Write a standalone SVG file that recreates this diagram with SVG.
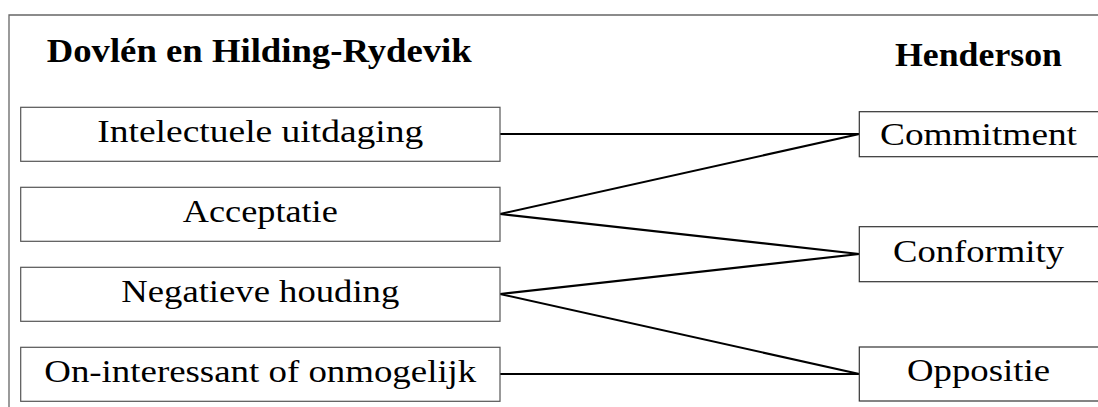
<svg xmlns="http://www.w3.org/2000/svg" width="1098" height="407" viewBox="0 0 1098 407">
  <style>
    .frame { fill: none; stroke: #666; stroke-width: 1.3; }
    .box { fill: #fff; stroke: #555; stroke-width: 1.2; }
    .rbox { fill: #fff; stroke: #333; stroke-width: 1.2; }
    .edge { fill: none; stroke: #000; stroke-width: 2.1; }
    .head { font-family: "Liberation Serif", "DejaVu Serif", serif; font-weight: bold; font-size: 33px; fill: #000; }
    .lbl { font-family: "Liberation Serif", "DejaVu Serif", serif; font-size: 31px; fill: #000; text-anchor: middle; }
  </style>
  <rect width="1098" height="407" fill="#fff"/>

  <!-- outer frame, open to the right and bottom -->
  <polyline class="frame" points="9,407 9,15 1098,15"/>

  <!-- column headings -->
  <text id="head-left" class="head" x="46.7" y="61.7" textLength="425" lengthAdjust="spacingAndGlyphs">Dovlén en Hilding-Rydevik</text>
  <text id="head-right" class="head" x="895" y="65.7" textLength="167" lengthAdjust="spacingAndGlyphs">Henderson</text>

  <!-- connectors -->
  <g id="connectors">
    <line class="edge" x1="500" y1="134" x2="859.3" y2="134"/>
    <line class="edge" x1="500" y1="214" x2="859.3" y2="134"/>
    <line class="edge" x1="500" y1="214" x2="859.3" y2="254"/>
    <line class="edge" x1="500" y1="294" x2="859.3" y2="254"/>
    <line class="edge" x1="500" y1="294" x2="859.3" y2="374"/>
    <line class="edge" x1="500" y1="374" x2="859.3" y2="374"/>
  </g>

  <!-- left column -->
  <g id="n-intelectuele">
    <rect class="box" x="20.7" y="107.3" width="479.3" height="54"/>
    <text class="lbl" x="260.3" y="142.3" textLength="326" lengthAdjust="spacingAndGlyphs">Intelectuele uitdaging</text>
  </g>
  <g id="n-acceptatie">
    <rect class="box" x="20.7" y="187.3" width="479.3" height="54"/>
    <text class="lbl" x="260.3" y="222.3" textLength="155" lengthAdjust="spacingAndGlyphs">Acceptatie</text>
  </g>
  <g id="n-negatieve">
    <rect class="box" x="20.7" y="267.3" width="479.3" height="54"/>
    <text class="lbl" x="260.3" y="302.3" textLength="278" lengthAdjust="spacingAndGlyphs">Negatieve houding</text>
  </g>
  <g id="n-oninteressant">
    <rect class="box" x="20.7" y="347.3" width="479.3" height="54"/>
    <text class="lbl" x="260.3" y="382.3" textLength="432" lengthAdjust="spacingAndGlyphs">On-interessant of onmogelijk</text>
  </g>

  <!-- right column -->
  <g id="n-commitment">
    <rect class="rbox" x="859.3" y="111.7" width="240" height="45"/>
    <text class="lbl" x="978.5" y="145" textLength="197" lengthAdjust="spacingAndGlyphs">Commitment</text>
  </g>
  <g id="n-conformity">
    <rect class="rbox" x="859.3" y="226.7" width="240" height="55"/>
    <text class="lbl" x="978.5" y="261.7" textLength="171" lengthAdjust="spacingAndGlyphs">Conformity</text>
  </g>
  <g id="n-oppositie">
    <rect class="rbox" x="859.3" y="347" width="240" height="54"/>
    <text class="lbl" x="978.5" y="380.7" textLength="143" lengthAdjust="spacingAndGlyphs">Oppositie</text>
  </g>
</svg>
